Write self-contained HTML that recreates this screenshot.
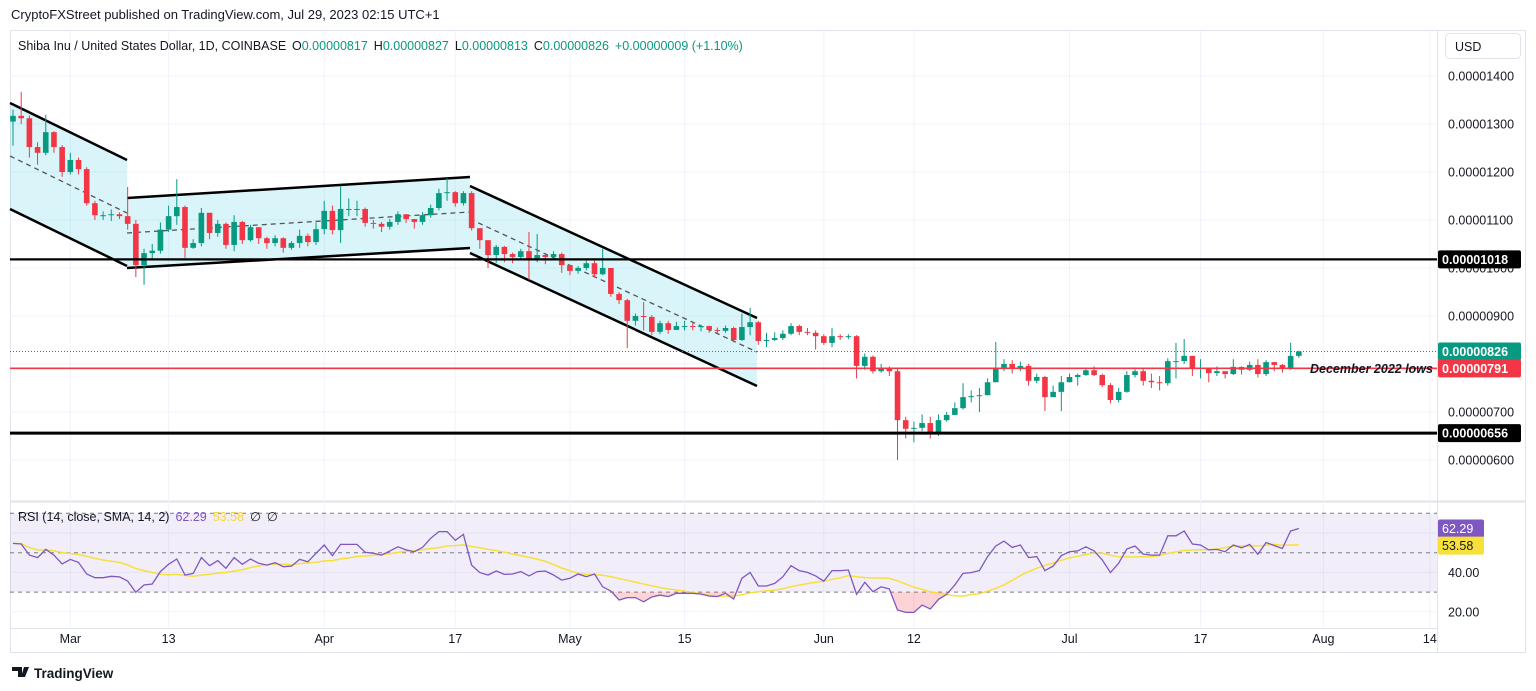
<!DOCTYPE html>
<html><head><meta charset="utf-8"><style>
html,body{margin:0;padding:0;background:#fff;}
svg{display:block;font-family:"Liberation Sans",sans-serif;}
</style></head><body>
<svg id="c" width="1536" height="691" viewBox="0 0 1536 691">
<rect width="1536" height="691" fill="#fff"/>
<text x="11" y="19" font-size="13" fill="#131722">CryptoFXStreet published on TradingView.com, Jul 29, 2023 02:15 UTC+1</text>
<rect x="10.5" y="30.5" width="1515" height="622" fill="none" stroke="#e0e3eb"/>
<line x1="1437.5" y1="30" x2="1437.5" y2="652" stroke="#e0e3eb"/>
<line x1="10" y1="501.5" x2="1526" y2="501.5" stroke="#e0e3eb" stroke-width="2"/>
<line x1="10" y1="628.5" x2="1437" y2="628.5" stroke="#e0e3eb"/>
<g id="grid"></g>
<g id="overlays"></g>
<g id="candles"></g>
<g id="hlines"></g>
<g id="rsi"></g>
<g id="axes"></g>
<g font-size="12.5">
<text x="18" y="50" fill="#131722">Shiba Inu / United States Dollar, 1D, COINBASE</text>
<text x="292" y="50"><tspan fill="#131722">O</tspan><tspan fill="#089981">0.00000817</tspan><tspan fill="#131722" dx="6">H</tspan><tspan fill="#089981">0.00000827</tspan><tspan fill="#131722" dx="6">L</tspan><tspan fill="#089981">0.00000813</tspan><tspan fill="#131722" dx="6">C</tspan><tspan fill="#089981">0.00000826</tspan><tspan fill="#089981" dx="6">+0.00000009 (+1.10%)</tspan></text>
</g>
<g>
<rect x="1445.5" y="33.5" width="75" height="25" rx="4" fill="#fff" stroke="#e0e3eb"/>
<text x="1455" y="51" font-size="12.5" fill="#131722">USD</text>
</g>
<text x="1310" y="373" font-size="12.5" font-style="italic" font-weight="bold" fill="#131722">December 2022 lows</text>
<g font-size="12.5">
<text x="18" y="521"><tspan fill="#131722">RSI (14, close, SMA, 14, 2)</tspan><tspan fill="#7e57c2" dx="6">62.29</tspan><tspan fill="#f7d63a" dx="6">53.58</tspan><tspan fill="#131722" dx="6">∅</tspan><tspan fill="#131722" dx="6">∅</tspan></text>
</g>
<g>
<path d="M12 667h10v10h-4v-6h-6z M24 667h5l-4 10h-4z" fill="#131722"/>
<text x="34" y="678" font-size="13.5" font-weight="bold" fill="#131722">TradingView</text>
</g>
</svg>
<script>
const closes=[1317,1312,1252,1240,1283,1252,1200,1225,1206,1135,1110,1110,1112,1108,1092,1006,1031,1036,1080,1108,1127,1042,1052,1115,1073,1092,1048,1096,1058,1085,1062,1052,1062,1042,1052,
1067,1054,1081,1119,1079,1123,1123,1123,1094,1092,1086,1096,1112,1102,1096,1110,1125,1156,1158,1135,1156,1083,1058,1027,1044,1029,1023,1035,1016,1027,1023,1029,1006,994,1000,1010,
987,1000,946,933,890,900,898,867,885,871,879,879,877,879,871,869,875,850,877,887,848,850,854,863,879,867,865,858,844,858,856,858,796,815,785,792,785,683,
665,667,677,656,683,694,708,731,733,735,762,790,800,790,796,765,773,731,742,762,773,777,787,777,756,725,742,777,785,765,762,760,806,806,817,792,792,781,785,779,794,788,798,779,804,798,790,817,826];
const highs=[1330,1367,1318,1262,1319,1285,1256,1240,1230,1210,1140,1118,1122,1116,1169,1100,1040,1050,1095,1130,1185,1130,1060,1125,1115,1100,1095,1110,1098,1090,1085,1065,1068,1064,1056,
1080,1072,1095,1140,1130,1171,1145,1140,1126,1100,1096,1102,1118,1108,1100,1116,1132,1165,1187,1160,1160,1160,1070,1040,1048,1046,1032,1040,1075,1071,1031,1035,1032,1006,1004,1015,
1015,1040,1000,950,936,905,929,902,890,890,888,890,885,882,880,876,880,878,905,917,890,865,866,870,885,882,875,870,862,875,862,862,860,822,818,800,795,790,
690,680,695,690,695,700,720,760,745,750,770,846,810,808,805,800,780,775,755,775,780,780,790,795,780,760,750,785,793,790,780,775,812,844,852,805,810,790,795,785,810,795,805,810,808,802,800,844,828];
const lows=[1255,1300,1230,1215,1235,1240,1190,1195,1195,1130,1100,1100,1098,1102,1080,981,965,1020,1030,1075,1090,1021,1040,1045,1060,1065,1040,1035,1050,1055,1050,1040,1045,1032,1038,
1042,1045,1048,1070,1070,1052,1108,1108,1086,1082,1075,1080,1090,1094,1082,1090,1105,1120,1140,1128,1130,1078,1040,1000,1010,1012,1010,1018,975,1012,1008,1022,990,985,988,995,
980,985,940,925,833,880,870,860,862,863,872,870,870,868,865,863,865,845,848,860,840,835,848,850,860,860,860,830,840,835,850,852,770,788,780,782,775,600,
645,637,660,645,650,680,695,705,720,700,760,780,785,780,785,755,760,702,735,702,765,755,775,775,752,718,720,740,772,755,750,745,755,770,800,775,770,762,775,770,777,778,785,772,775,785,782,788,813];
const firstOpen=1305;
const rsiValues=[54.7,54.4,48.8,47.5,51.7,48.8,44.3,46.6,45.1,39.2,37.3,37.3,38,37.7,35.6,29.9,33.6,34.1,40.4,44.1,46.8,38.7,39.5,47.5,43.4,46,42.1,47.5,44.1,46.8,44.6,43.7,44.9,42.9,43.2,46.6,45.4,49.7,53.9,48.5,54.2,54.2,54.2,50.2,49.7,48.8,50.8,53,51.4,50.5,52.7,57.3,60.7,60.7,56.3,59.3,43.7,39.9,38.7,40.7,39,39.2,40.4,38.2,40.4,40.7,38.7,36.1,37,39.2,37.8,39.2,32.7,30.5,26,27.2,27.2,25.1,27.5,
28.5,27.7,29.4,29.4,29.4,29,28,27.7,29.4,26.5,37,40,33.1,33.1,34.4,37.8,43.4,40.9,40,38.2,35.6,40.9,40.9,41.2,28.9,35,30.2,32.7,31.6,20.9,19.7,19.7,23.4,21.4,26.3,28.9,33.6,39.5,39.9,40.9,48,53.4,55.9,52.7,53.9,47.5,48,40.9,43.2,48.5,50.5,50.9,53,50.9,46.3,39.9,44.6,51.9,53.4,49.3,48.8,48.8,58.6,58.6,61,54.4,53.9,51.4,51.7,50.5,53.9,52.5,54.2,49.2,55.2,53.6,52.2,61,62.3];
const priceTicks=[1400,1300,1200,1100,1000,900,800,700,600];
const priceTickLabels=["0.00001400","0.00001300","0.00001200","0.00001100","0.00001000","0.00000900","0.00000800","0.00000700","0.00000600"];
const timeLabels=["Mar","13","Apr","17","May","15","Jun","12","Jul","17","Aug","14"];
const timeIdx=[7,19,38,54,68,82,99,110,129,145,160,173];
const rsiTicks=[40,20];
const levels=[1018,791,656];

const NS="http://www.w3.org/2000/svg";
function mk(tag,attrs,parent){const e=document.createElementNS(NS,tag);for(const k in attrs)e.setAttribute(k,attrs[k]);parent.appendChild(e);return e;}
const X=i=>13+8.19*i;
const Y=p=>76+(1400-p)*0.48;
const RY=r=>552.7-(r-50)*1.97;
const g=id=>document.getElementById(id);

priceTicks.forEach((p,k)=>{const l=mk('line',{x1:10,x2:1437,y1:Y(p),y2:Y(p),stroke:'#f0f3fa'},g('grid'));


const t=mk('text',{x:1448,y:Y(p)+4.5,'font-size':12.5,fill:'#131722'},g('axes'));t.textContent=priceTickLabels[k];

});
timeIdx.forEach((ix,k)=>{const x=X(ix);const l=mk('line',{x1:x,x2:x,y1:31,y2:628,stroke:'#f0f3fa'},g('grid'));


const t=mk('text',{x:x,y:643,'font-size':12.5,fill:'#131722','text-anchor':'middle'},g('axes'));t.textContent=timeLabels[k];

});
[60,40,20].forEach(r=>{const l=mk('line',{x1:10,x2:1437,y1:RY(r),y2:RY(r),stroke:'#f0f3fa'},g('grid'));

});

const ov=g('overlays');
function channel(name,x1,t1,x2,t2,b1,b2,m1,m2){
 const p=mk('polygon',{points:`${x1},${t1} ${x2},${t2} ${x2},${b2} ${x1},${b1}`,fill:'rgba(0,188,212,0.15)'},ov);
 
 
 const a=mk('line',{x1:x1,y1:t1,x2:x2,y2:t2,stroke:'#000','stroke-width':2.5},ov);
 
 
 const b=mk('line',{x1:x1,y1:b1,x2:x2,y2:b2,stroke:'#000','stroke-width':2.5},ov);
 
 
 const m=mk('line',{x1:x1,y1:m1,x2:x2,y2:m2,stroke:'#555','stroke-width':1.3,'stroke-dasharray':'5 4'},ov);
 
 
}
channel('descending-channel-1',10,103,127,160,209,266,156,213);
channel('ascending-channel',127,198,470,177,268,248,233,212);
channel('descending-channel-2',470,186,757,318,253,386,219,352);

const cg=g('candles');
closes.forEach((c,i)=>{
 const o=i===0?firstOpen:closes[i-1];
 const h=Math.max(highs[i],o,c), l=Math.min(lows[i],o,c);
 const up=c>=o, col=up?'#089981':'#f23645', x=X(i);
 const w=mk('line',{x1:x,x2:x,y1:Y(h),y2:Y(l),stroke:col,'stroke-width':1},cg);
 
 
 const top=Y(Math.max(o,c)),bh=Math.max(1,Y(Math.min(o,c))-top);
 const r=mk('rect',{x:x-2.8,y:top,width:5.6,height:bh,fill:col},cg);
 
 
});

const hg=g('hlines');
const dl=mk('line',{x1:10,x2:1437,y1:Y(closes[closes.length-1]),y2:Y(closes[closes.length-1]),stroke:'#089981','stroke-width':1,'stroke-dasharray':'1 2'},hg);


const lvStyle=[['resistance-line','#000',2.2],['december-2022-lows-line','#f23645',1.6],['support-line','#000',3]];
levels.forEach((p,k)=>{const l=mk('line',{x1:10,x2:1437,y1:Y(p),y2:Y(p),stroke:lvStyle[k][1],'stroke-width':lvStyle[k][2]},hg);

});
function tag(p,bg,fg,name){const y=Y(p);
 const r=mk('rect',{x:1438,y:y-9,width:83,height:18,fill:bg,rx:2},g('axes'));
 
 
 const t=mk('text',{x:1442,y:y+4.5,'font-size':12.5,fill:fg,'font-weight':'bold'},g('axes'));t.textContent=(p/1e8).toFixed(8);
 
 }
tag(levels[0],'#000','#fff','resistance-price-tag');
tag(closes[closes.length-1],'#089981','#fff','last-price-tag');
tag(levels[1],'#f23645','#fff','december-lows-price-tag');
tag(levels[2],'#000','#fff','support-price-tag');

const rg=g('rsi');
const band=mk('rect',{x:10,y:RY(70),width:1427,height:RY(30)-RY(70),fill:'rgba(126,87,194,0.1)'},rg);


[70,50,30].forEach(r=>{const l=mk('line',{x1:10,x2:1437,y1:RY(r),y2:RY(r),stroke:'#787b86','stroke-dasharray':'4 4'},rg);

});
const defs=mk('defs',{},rg);
const cp=mk('clipPath',{id:'os'},defs);mk('rect',{x:0,y:RY(30),width:1437,height:60},cp);
const pts=rsiValues.map((r,i)=>X(i).toFixed(1)+','+RY(r).toFixed(1));
const os=mk('polygon',{points:pts.join(' ')+` ${X(rsiValues.length-1)},${RY(30)} ${X(0)},${RY(30)}`,fill:'rgba(242,54,69,0.22)','clip-path':'url(#os)'},rg);


const sma=rsiValues.map((_,i)=>{const s=rsiValues.slice(Math.max(0,i-13),i+1);return s.reduce((a,b)=>a+b,0)/s.length;});
const sl=mk('polyline',{points:sma.map((r,i)=>X(i).toFixed(1)+','+RY(r).toFixed(1)).join(' '),fill:'none',stroke:'#f7e03a','stroke-width':1.5},rg);


const rl=mk('polyline',{points:pts.join(' '),fill:'none',stroke:'#7e57c2','stroke-width':1.3},rg);


rsiTicks.forEach(r=>{const t=mk('text',{x:1448,y:RY(r)+4.5,'font-size':12.5,fill:'#131722'},g('axes'));t.textContent=r.toFixed(2);

});
function rtag(v,bg,fg,name){const y=RY(v);
 const r=mk('rect',{x:1438,y:y-9,width:46,height:18,fill:bg,rx:2},g('axes'));
 
 
 const t=mk('text',{x:1442,y:y+4.5,'font-size':12.5,fill:fg},g('axes'));t.textContent=v.toFixed(2);
 
 }
rtag(62.29,'#7e57c2','#fff','rsi-value-tag');
rtag(53.58,'#f7e03a','#131722','rsi-sma-value-tag');
</script>
</body></html>
